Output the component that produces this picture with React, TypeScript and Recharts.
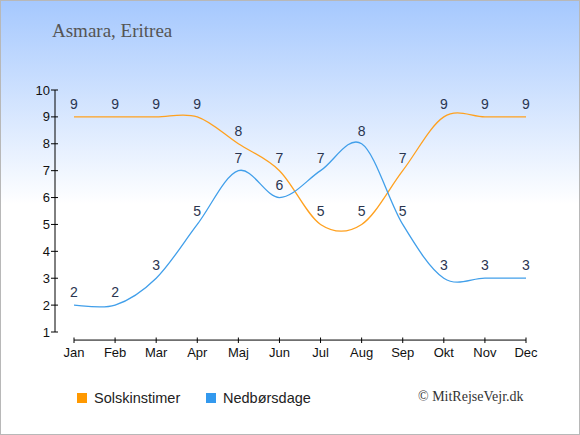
import { LineChart, Line, XAxis, YAxis, LabelList, ReferenceLine } from 'recharts'

const months = ['Jan', 'Feb', 'Mar', 'Apr', 'Maj', 'Jun', 'Jul', 'Aug', 'Sep', 'Okt', 'Nov', 'Dec']
const sunHours = [9, 9, 9, 9, 8, 7, 5, 5, 7, 9, 9, 9]
const rainDays = [2, 2, 3, 5, 7, 6, 7, 8, 5, 3, 3, 3]
const yTicks = [1, 2, 3, 4, 5, 6, 7, 8, 9, 10]

const series = [
  { key: 'sun', name: 'Solskinstimer', values: sunHours, line: '#ffa11f', box: '#ff9900' },
  { key: 'rain', name: 'Nedbørsdage', values: rainDays, line: '#419fea', box: '#3399ee' },
]

const data = months.map((month, i) => ({
  month,
  sun: sunHours[i],
  rain: rainDays[i],
}))

// catmull-rom style spline, like the one on the original site
function spline(context: any) {
  let pts: number[][] = []
  return {
    areaStart() {},
    areaEnd() {},
    lineStart() {
      pts = []
    },
    point(x: number, y: number) {
      pts.push([+x, +y])
    },
    lineEnd() {
      if (!pts.length) return
      context.moveTo(pts[0][0], pts[0][1])
      for (let i = 0; i < pts.length - 1; i++) {
        const p0 = pts[i - 1] || pts[i]
        const p1 = pts[i]
        const p2 = pts[i + 1]
        const p3 = pts[i + 2] || p2
        const k = 1 / 6
        context.bezierCurveTo(
          p1[0] + (p2[0] - p0[0]) * k,
          p1[1] + (p2[1] - p0[1]) * k,
          p2[0] - (p3[0] - p1[0]) * k,
          p2[1] - (p3[1] - p1[1]) * k,
          p2[0],
          p2[1]
        )
      }
    },
  }
}

const sans = 'Liberation Sans, Arial, sans-serif'
const serif = 'Liberation Serif, Times New Roman, serif'

function YTick({ x, y, payload }: any) {
  return (
    <g>
      <line x1={x - 4} x2={x + 3} y1={y} y2={y} stroke="#000" />
      <text x={x - 5} y={y + 4.5} textAnchor="end" fontSize={13} fontFamily={sans} fill="#111">
        {payload.value}
      </text>
    </g>
  )
}

function XTick({ x, y, payload }: any) {
  return (
    <g>
      <line x1={x} x2={x} y1={y + 5.5} y2={y + 11} stroke="#000" />
      <text x={x} y={y + 25} textAnchor="middle" fontSize={13} fontFamily={sans} fill="#111">
        {payload.value}
      </text>
    </g>
  )
}

export default function App() {
  return (
    <div
      style={{
        position: 'absolute',
        left: 0,
        top: 0,
        width: 580,
        height: 435,
        background: 'linear-gradient(#a5c8fe 0%, #ffffff 47%, #ffffff 100%)',
      }}
    >
      <LineChart
        width={580}
        height={435}
        data={data}
        margin={{ top: 90, right: 35, bottom: 73, left: 0 }}
      >
        <XAxis
          dataKey="month"
          padding={{ left: 19, right: 19 }}
          height={30}
          interval={0}
          axisLine={false}
          tickLine={false}
          tickSize={0}
          tickMargin={0}
          tick={<XTick />}
        />
        <YAxis
          width={55}
          domain={[1, 10]}
          ticks={yTicks}
          interval={0}
          axisLine={{ stroke: '#000' }}
          tickLine={false}
          tickSize={0}
          tickMargin={0}
          tick={<YTick />}
        />
        <ReferenceLine
          segment={[
            { x: months[0], y: 0.7 },
            { x: months[months.length - 1], y: 0.7 },
          ]}
          ifOverflow="visible"
          stroke="#000"
        />
        {series.map((s) => (
          <Line
            key={s.key}
            dataKey={s.key}
            name={s.name}
            type={spline as any}
            stroke={s.line}
            strokeWidth={1.3}
            dot={false}
            activeDot={false}
            isAnimationActive={false}
          >
            <LabelList
              dataKey={s.key}
              position="top"
              offset={8}
              fill="#2a3550"
              fontSize={14}
              fontFamily={sans}
            />
          </Line>
        ))}
      </LineChart>
      <svg
        width={580}
        height={435}
        style={{ position: 'absolute', left: 0, top: 0, pointerEvents: 'none' }}
      >
        <text x={52} y={37} fontFamily={serif} fontSize={19} fill="#555">
          Asmara, Eritrea
        </text>
        {series.map((s, i) => (
          <g key={s.key}>
            <rect x={77 + i * 129} y={393} width={10} height={10} fill={s.box} />
            <text x={94 + i * 129} y={403} fontFamily={sans} fontSize={14.5} fill="#222">
              {s.name}
            </text>
          </g>
        ))}
        <text x={418} y={401} fontFamily={serif} fontSize={14} fill="#333">
          © MitRejseVejr.dk
        </text>
        <rect x={0.5} y={0.5} width={579} height={434} fill="none" stroke="#b8b8b8" />
      </svg>
    </div>
  )
}
